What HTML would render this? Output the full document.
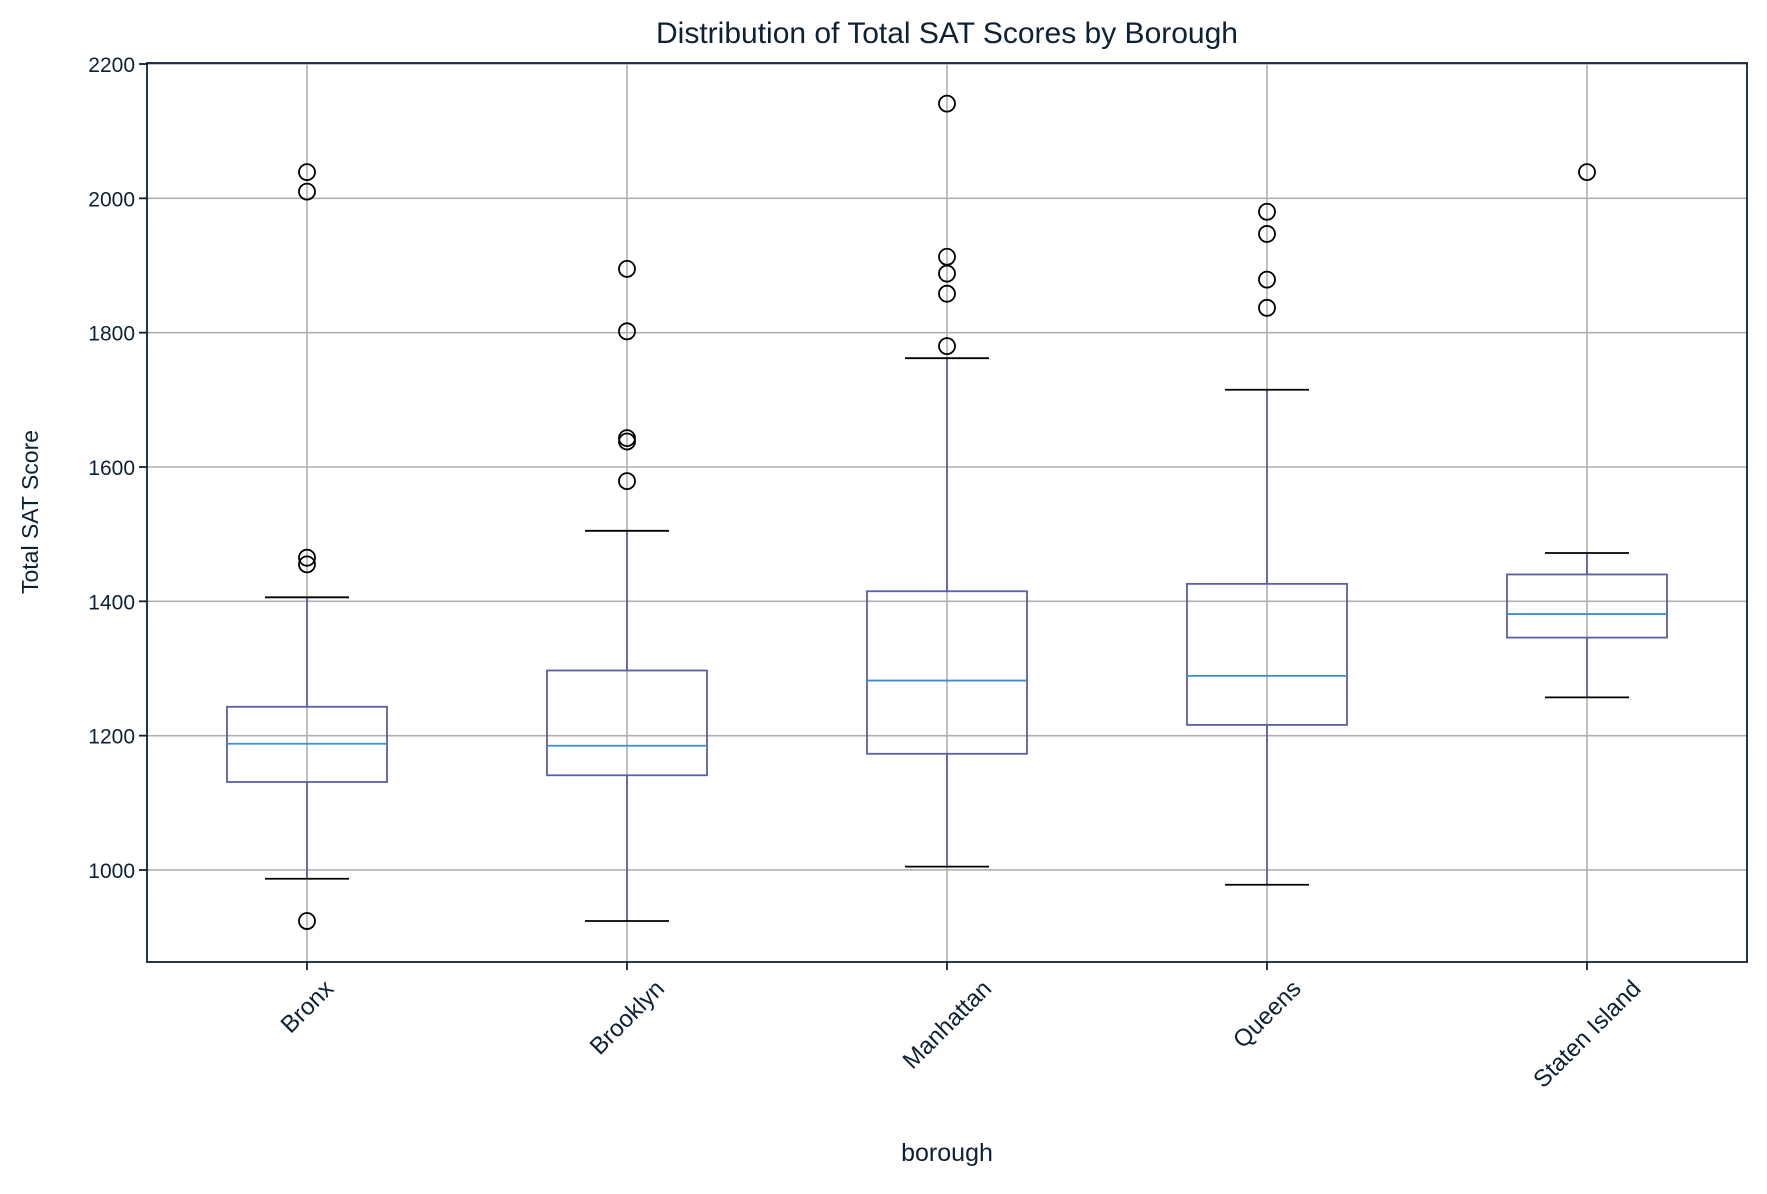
<!DOCTYPE html>
<html><head><meta charset="utf-8"><style>
html,body{margin:0;padding:0;background:#fff;}
svg text{font-family:"Liberation Sans",sans-serif;fill:#0d2135;}
</style></head><body>
<svg id="chart" width="1767" height="1189" viewBox="0 0 1767 1189" xmlns="http://www.w3.org/2000/svg">
<rect x="0" y="0" width="1767" height="1189" fill="#fff"/>
<text x="947" y="43" text-anchor="middle" font-size="30">Distribution of Total SAT Scores by Borough</text>
<g id="grid"></g><g id="marks"></g>
<rect x="147" y="63" width="1600" height="899" fill="none" stroke="#0d2135" stroke-width="1.8"/>
<g id="axes"></g>
<text transform="translate(38,512) rotate(-90)" text-anchor="middle" font-size="23">Total SAT Score</text>
<text x="947" y="1161" text-anchor="middle" font-size="25">borough</text>
</svg>
<script>
const categories=["Bronx","Brooklyn","Manhattan","Queens","Staten Island"];
const q1=[1131,1141,1173,1216,1346];
const medians=[1188,1185,1282,1289,1381];
const q3=[1243,1297,1415,1426,1440];
const whiskLo=[987,924,1005,978,1257];
const whiskHi=[1406,1505,1762,1715,1472];
const outliers=[[2039,2010,1465,1455,924],[1895,1802,1643,1638,1579],[2141,1913,1888,1858,1780],[1980,1947,1879,1837],[2039]];
const yTicks=[1000,1200,1400,1600,1800,2000,2200];
const L=147,R=1747,T=63,B=962,ymin=863,ymax=2201.5;
const x=i=>L+(i+1-0.5)*(R-L)/5;
const y=v=>B-(v-ymin)/(ymax-ymin)*(B-T);
const NS="http://www.w3.org/2000/svg";
function mk(p,tag,a){const e=document.createElementNS(NS,tag);for(const k in a)e.setAttribute(k,a[k]);p.appendChild(e);return e;}
const grid=document.getElementById('grid'),marks=document.getElementById('marks'),axes=document.getElementById('axes');
yTicks.forEach(t=>{
  const g=mk(grid,'line',{x1:L,x2:R,y1:y(t),y2:y(t),stroke:'#b0b0b0','stroke-width':1.6});
  
  
  const tk=mk(axes,'line',{x1:L-8,x2:L,y1:y(t),y2:y(t),stroke:'#0d2135','stroke-width':1.8});
  
  
  const tx=mk(axes,'text',{x:L-12,y:y(t)+8,'text-anchor':'end','font-size':21});
  tx.textContent=t;
  
  
});
categories.forEach((c,i)=>{
  const cx=x(i),hw=80,cw=42;
  const g=mk(grid,'line',{x1:cx,x2:cx,y1:T,y2:B,stroke:'#b0b0b0','stroke-width':1.6});
  
  
  const grp=mk(marks,'g',{});
  
  
  mk(grp,'line',{x1:cx,x2:cx,y1:y(q3[i]),y2:y(whiskHi[i]),stroke:'#5b5ea6','stroke-width':1.8});
  mk(grp,'line',{x1:cx,x2:cx,y1:y(q1[i]),y2:y(whiskLo[i]),stroke:'#5b5ea6','stroke-width':1.8});
  mk(grp,'line',{x1:cx-cw,x2:cx+cw,y1:y(whiskHi[i]),y2:y(whiskHi[i]),stroke:'#000','stroke-width':1.8});
  mk(grp,'line',{x1:cx-cw,x2:cx+cw,y1:y(whiskLo[i]),y2:y(whiskLo[i]),stroke:'#000','stroke-width':1.8});
  mk(grp,'rect',{x:cx-hw,y:y(q3[i]),width:2*hw,height:y(q1[i])-y(q3[i]),fill:'none',stroke:'#5b5ea6','stroke-width':1.8});
  mk(grp,'line',{x1:cx-hw,x2:cx+hw,y1:y(medians[i]),y2:y(medians[i]),stroke:'#3a8fd9','stroke-width':1.8});
  outliers[i].forEach(v=>{
    const o=mk(grp,'circle',{cx:cx,cy:y(v),r:8,fill:'none',stroke:'#000','stroke-width':1.8});
    
    
  });
  const tk=mk(axes,'line',{x1:cx,x2:cx,y1:B,y2:B+8,stroke:'#0d2135','stroke-width':1.8});
  
  
  const tx=mk(axes,'text',{'text-anchor':'middle','font-size':24});
  tx.textContent=c;
  
  
  const w=tx.getComputedTextLength(),h=18;
  const cy=978+(w+h)*0.707/2;
  tx.setAttribute('transform','translate('+cx+','+cy+') rotate(-45) translate(0,8)');
});
</script>
</body></html>
